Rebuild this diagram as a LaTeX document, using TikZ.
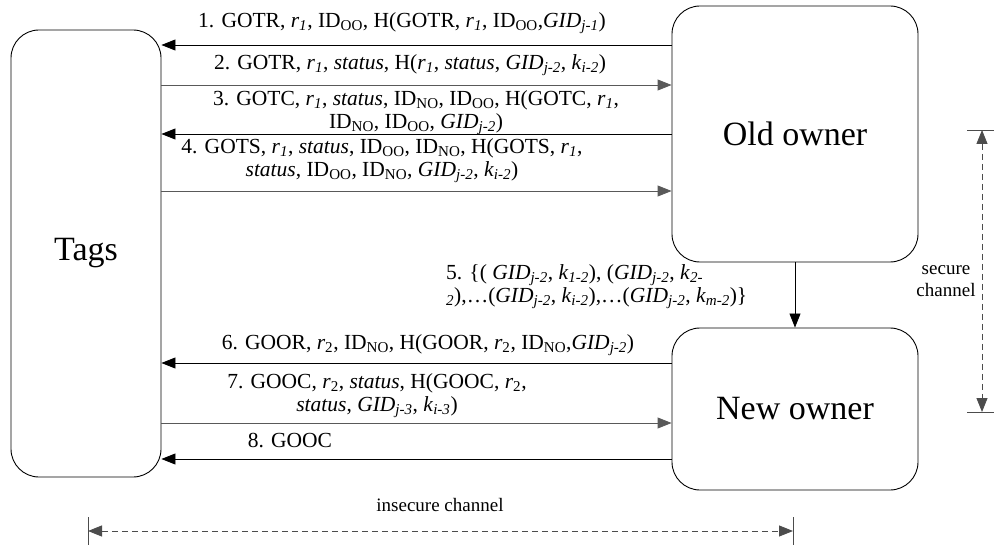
\documentclass[tikz,border=0pt]{standalone}
\usepackage{fontspec}
\setmainfont{Liberation Serif}
\usetikzlibrary{arrows.meta}
\newcommand{\rr}[1]{\textit{r}\textsubscript{\textit{#1}}}
\newcommand{\rt}[1]{\textit{r}\textsubscript{#1}}
\newcommand{\IDs}[1]{ID\textsubscript{#1}}
\newcommand{\GID}[1]{\textit{GID}\textsubscript{\textit{#1}}}
\newcommand{\kk}[1]{\textit{k}\textsubscript{\textit{#1}}}
\begin{document}
\begin{tikzpicture}[x=1pt,y=-1pt,
  box/.style={draw, rounded corners=28pt, line width=0.9pt, font=\fontsize{34}{40}\selectfont, inner sep=0pt},
  msg/.style={font=\fontsize{21.5}{23}\selectfont, align=center, inner sep=0pt},
  small/.style={font=\fontsize{19}{22}\selectfont, align=center, inner sep=0pt},
  arr/.style={-{Triangle[length=14pt,width=11pt]}, line width=0.9pt},
  garr/.style={arr, draw=black!65},
  dim/.style={{Triangle[length=14pt,width=11pt]}-{Triangle[length=14pt,width=11pt]}, dashed, dash pattern=on 6pt off 4pt, line width=0.9pt, draw=black!70},
  tick/.style={line width=0.9pt, draw=black!70}]
\useasboundingbox (0,0) rectangle (994,548);
% boxes
\node[box, minimum width=150pt, minimum height=447pt] (tags) at (86,253.5) {Tags};
\node[box, minimum width=246pt, minimum height=256pt] (oo) at (795,134) {Old owner};
\node[box, minimum width=246pt, minimum height=162pt] (no) at (795,409) {New owner};
% messages
\draw[arr]  (oo.west |- 0,45)  -- (tags.east |- 0,45);
\draw[garr] (tags.east |- 0,85) -- (oo.west |- 0,85);
\draw[arr]  (oo.west |- 0,134) -- (tags.east |- 0,134);
\draw[garr] (tags.east |- 0,191) -- (oo.west |- 0,191);
\draw[arr]  (oo.south) -- (no.north);
\draw[arr]  (no.west |- 0,363) -- (tags.east |- 0,363);
\draw[garr] (tags.east |- 0,423) -- (no.west |- 0,423);
\draw[arr]  (no.west |- 0,459) -- (tags.east |- 0,459);
\node[msg] (m1) at (402,23) {1. GOTR, \rr{1}, \IDs{OO}, H(GOTR, \rr{1}, \IDs{OO},\GID{j-1})};
\node[msg] (m2) at (410,65) {2. GOTR, \rr{1}, \textit{status}, H(\rr{1}, \textit{status}, \GID{j-2}, \kk{i-2})};
\node[msg] (m3) at (416,113) {3. GOTC, \rr{1}, \textit{status}, \IDs{NO}, \IDs{OO}, H(GOTC, \rr{1},\\ \IDs{NO}, \IDs{OO}, \GID{j-2})};
\node[msg] (m4) at (382,161) {4. GOTS, \rr{1}, \textit{status}, \IDs{OO}, \IDs{NO}, H(GOTS, \rr{1},\\ \textit{status}, \IDs{OO}, \IDs{NO}, \GID{j-2}, \kk{i-2})};
\node[msg, align=left, anchor=west] (m5) at (446,287) {5. \{( \GID{j-2}, \kk{1-2}), (\GID{j-2}, \kk{2-}\\ \textsubscript{\textit{2}}),\ldots(\GID{j-2}, \kk{i-2}),\ldots(\GID{j-2}, \kk{m-2})\}};
\node[msg] (m6) at (428,345) {6. GOOR, \rt{2}, \IDs{NO}, H(GOOR, \rt{2}, \IDs{NO},\GID{j-2})};
\node[msg] (m7) at (377,396) {7. GOOC, \rt{2}, \textit{status}, H(GOOC, \rt{2},\\ \textit{status}, \GID{j-3}, \kk{i-3})};
\node[msg] (m8) at (290,441) {8. GOOC};
% secure channel
\coordinate (s1) at (982,130);
\coordinate (s2) at (982,412);
\draw[tick] (967,130) -- (994,130);
\draw[tick] (967,412) -- (994,412);
\draw[dim] (s1) -- (s2);
\node[small] (sc) at (946,281) {secure\\channel};
% insecure channel
\coordinate (i1) at (88,531);
\coordinate (i2) at (793,531);
\draw[tick] (88,517) -- (88,545);
\draw[tick] (793,517) -- (793,545);
\draw[dim] (i1) -- (i2);
\node[small] (ic) at (440,505) {insecure channel};
\end{tikzpicture}
\end{document}
